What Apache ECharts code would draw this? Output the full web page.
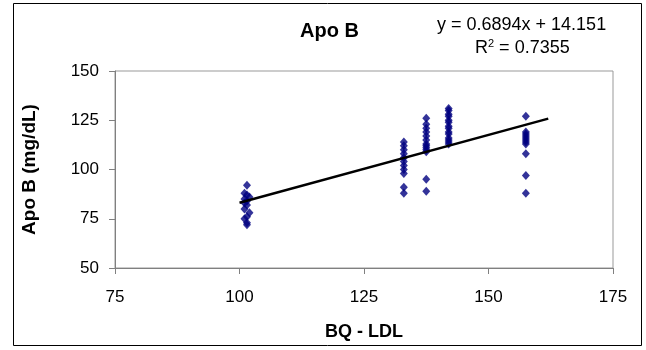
<!DOCTYPE html>
<html>
<head>
<meta charset="utf-8">
<script src="https://cdn.jsdelivr.net/npm/echarts@6/dist/echarts.min.js"></script>
<style>
  html, body { margin: 0; padding: 0; background: #fff; }
  #chart-container { width: 646px; height: 350px; }
</style>
</head>
<body>
<div id="chart-container"></div>
<script>
// data
const bqLdl = [
  101.5, 101, 101.5, 102, 101, 101.5, 101, 101.5, 101, 102, 101.5, 101, 101.5, 101.5,
  133, 133, 133, 133, 133, 133, 133, 133, 133, 133, 133,
  137.5, 137.5, 137.5, 137.5, 137.5, 137.5, 137.5, 137.5, 137.5, 137.5, 137.5, 137.5, 137.5,
  142, 142, 142, 142, 142, 142, 142, 142, 142, 142, 142, 142, 142, 142,
  157.5, 157.5, 157.5, 157.5, 157.5, 157.5, 157.5, 157.5, 157.5, 157.5, 157.5
];
const apoB = [
  92, 88, 87, 86, 85, 84, 83, 82, 80, 78, 76, 75, 73, 72,
  114, 112, 110, 108, 106, 104, 102, 100, 98, 91, 88,
  126, 123, 121, 119, 117, 115, 113, 112, 111, 110, 109, 95, 89,
  131, 130, 128, 127, 125, 124, 122, 121, 119, 118, 116, 115, 114, 113,
  127, 119, 118, 117, 116, 115, 114, 113, 108, 97, 88
];

// trendline from the equation shown on the chart
const slope = 0.6894;
const intercept = 14.151;
const trendRange = [100, 162];

const xTicks = [75, 100, 125, 150, 175];
const yTicks = [50, 75, 100, 125, 150];

const chartContainer = document.getElementById('chart-container');
const myChart = echarts.init(chartContainer);

const points = bqLdl.map((x, i) => [x, apoB[i]]);
const trend = trendRange.map(x => [x, slope * x + intercept]);

const font = '"Liberation Sans", Arial, sans-serif';

const option = {
  backgroundColor: '#fff',
  animation: false,
  textStyle: { fontFamily: font },
  grid: {
    left: 115,
    right: 33,
    top: 71,
    bottom: 82,
    show: true,
    borderColor: '#999',
    borderWidth: 1
  },
  graphic: [
    {
      type: 'rect',
      shape: { x: 13.5, y: 3.5, width: 628, height: 342 },
      style: { fill: 'none', stroke: '#000', lineWidth: 1 },
      silent: true
    },
    {
      type: 'text',
      left: 300, top: 21,
      style: { text: 'Apo B', font: 'bold 20px ' + font, fill: '#000' }
    },
    {
      type: 'text',
      left: 437, top: 16,
      style: { text: 'y = ' + slope + 'x + ' + intercept, font: '18px ' + font, fill: '#000' }
    },
    {
      type: 'text',
      left: 475, top: 38,
      style: {
        text: '{r|R}{s|2}{r| = 0.7355}',
        font: '18px ' + font,
        fill: '#000',
        rich: {
          r: { fontSize: 18, fontFamily: font, fill: '#000', verticalAlign: 'bottom' },
          s: { fontSize: 11, fontFamily: font, fill: '#000', verticalAlign: 'top', padding: [0, 0, 8, 0] }
        }
      }
    }
  ],
  xAxis: {
    type: 'value',
    min: xTicks[0],
    max: xTicks[xTicks.length - 1],
    interval: 25,
    name: 'BQ - LDL',
    nameLocation: 'middle',
    nameGap: 55,
    nameTextStyle: { fontWeight: 'bold', fontSize: 18, color: '#000', fontFamily: font },
    axisLine: { lineStyle: { color: '#808080', width: 1 } },
    axisTick: { show: true, length: 6, lineStyle: { color: '#808080' } },
    axisLabel: { fontSize: 17, color: '#000', margin: 21, fontFamily: font },
    splitLine: { show: false }
  },
  yAxis: {
    type: 'value',
    min: yTicks[0],
    max: yTicks[yTicks.length - 1],
    interval: 25,
    name: 'Apo B (mg/dL)',
    nameLocation: 'middle',
    nameGap: 76,
    nameTextStyle: { fontWeight: 'bold', fontSize: 19, color: '#000', fontFamily: font },
    axisLine: { show: true, lineStyle: { color: '#808080', width: 1 } },
    axisTick: { show: true, length: 6, lineStyle: { color: '#808080' } },
    axisLabel: { fontSize: 17, color: '#000', margin: 16, fontFamily: font },
    splitLine: { show: false }
  },
  series: [
    {
      name: 'Apo B',
      type: 'scatter',
      data: points,
      symbol: 'diamond',
      symbolSize: [8, 9],
      itemStyle: { color: '#000080' },
      z: 2
    },
    {
      name: 'Trend',
      type: 'line',
      data: trend,
      showSymbol: false,
      lineStyle: { color: '#000', width: 2.5 },
      z: 3
    }
  ]
};

myChart.setOption(option);
</script>
</body>
</html>
